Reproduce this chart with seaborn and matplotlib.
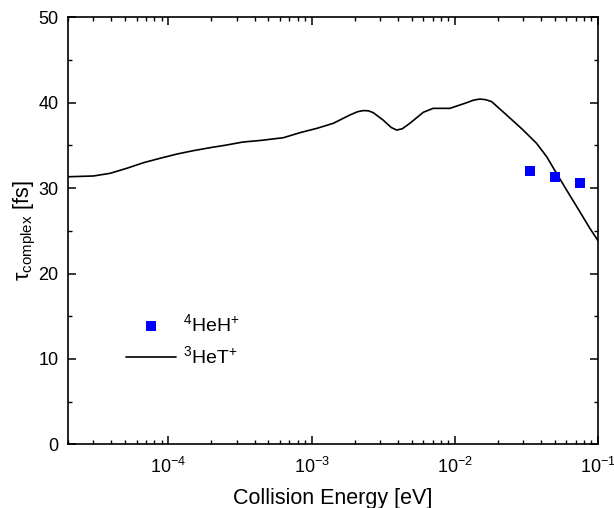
import numpy as np
import matplotlib
matplotlib.use('Agg')
import matplotlib.pyplot as plt
import matplotlib.ticker as mticker
import seaborn as sns

# 3HeT+ model curve
energy_het = [2.0e-5, 3.0e-5, 3.92e-5, 5.13e-5, 6.70e-5, 8.75e-5, 1.15e-4, 1.49e-4,
              1.95e-4, 2.56e-4, 3.33e-4, 4.40e-4, 6.35e-4, 8.30e-4, 1.09e-3, 1.42e-3,
              1.85e-3, 2.10e-3, 2.30e-3, 2.50e-3, 2.70e-3, 3.16e-3, 3.60e-3, 3.93e-3,
              4.30e-3, 4.86e-3, 6.03e-3, 7.06e-3, 9.25e-3, 1.21e-2, 1.35e-2, 1.50e-2,
              1.65e-2, 1.81e-2, 2.30e-2, 3.00e-2, 3.72e-2, 4.38e-2, 5.13e-2, 6.03e-2,
              7.46e-2, 8.77e-2, 1.0e-1]
tau_het = [31.33, 31.42, 31.73, 32.32, 32.97, 33.49, 33.99, 34.38,
           34.73, 35.05, 35.40, 35.58, 35.90, 36.49, 37.00, 37.59,
           38.56, 38.95, 39.08, 39.05, 38.83, 37.97, 37.10, 36.80,
           36.95, 37.59, 38.88, 39.34, 39.34, 40.00, 40.30, 40.43,
           40.35, 40.12, 38.56, 36.80, 35.25, 33.68, 31.73, 29.78,
           27.24, 25.29, 23.84]

# 4HeH+ measured points
energy_heh = [0.0334, 0.0499, 0.0746]
tau_heh = [32.04, 31.26, 30.63]

sns.set_style('ticks')
plt.rcParams['font.family'] = ['Liberation Sans', 'DejaVu Sans']
plt.rcParams['mathtext.fontset'] = 'custom'
plt.rcParams['mathtext.rm'] = 'Liberation Sans'
plt.rcParams['mathtext.it'] = 'Liberation Sans:italic'
plt.rcParams['mathtext.bf'] = 'Liberation Sans:bold'
plt.rcParams['axes.unicode_minus'] = False
plt.rcParams['text.color'] = 'black'
plt.rcParams['axes.labelcolor'] = 'black'
plt.rcParams['xtick.color'] = 'black'
plt.rcParams['ytick.color'] = 'black'

fig = plt.figure(figsize=(6.14, 5.08), dpi=100)
ax = fig.add_axes([0.111, 0.1254, 0.863, 0.8405])

sns.scatterplot(x=energy_heh, y=tau_heh, marker='s', color='#0000ff', s=44,
                linewidth=0, ax=ax, label='$^{4}$HeH$^{+}$', zorder=3)
sns.lineplot(x=energy_het, y=tau_het, color='black', linewidth=1.2, ax=ax,
             label='$^{3}$HeT$^{+}$', sort=False)

ax.set_xscale('log')
ax.set_xlim(2e-5, 1e-1)
ax.set_ylim(0, 50)
ax.yaxis.set_major_locator(mticker.MultipleLocator(10))
ax.yaxis.set_minor_locator(mticker.MultipleLocator(5))
ax.xaxis.set_major_locator(mticker.LogLocator(base=10, numticks=10))
ax.xaxis.set_minor_locator(mticker.LogLocator(base=10, subs=np.arange(2, 10), numticks=20))
ax.xaxis.set_minor_formatter(mticker.NullFormatter())

for side in ['top', 'right', 'bottom', 'left']:
    ax.spines[side].set_visible(True)
    ax.spines[side].set_linewidth(1.2)
    ax.spines[side].set_color('black')

ax.tick_params(which='both', direction='in', top=True, right=True, color='black',
               labelcolor='black')
ax.tick_params(which='major', length=5.5, width=1.1, labelsize=13)
ax.tick_params(which='minor', length=3, width=1.0)
ax.tick_params(axis='x', which='major', pad=9)
ax.tick_params(axis='y', which='major', pad=7)

ax.set_xlabel('Collision Energy [eV]', fontsize=15.5, labelpad=8, color='black')
ax.set_ylabel(r'$\mathrm{\tau_{complex}}$ [fs]', fontsize=15.5, labelpad=0, color='black')

handles, labels = ax.get_legend_handles_labels()
leg = ax.legend(handles, labels, loc='center left', bbox_to_anchor=(0.109, 0.244),
                frameon=False, fontsize=14, borderpad=0, borderaxespad=0,
                handlelength=2.6, handletextpad=0.35, labelspacing=0.55)
for t in leg.get_texts():
    t.set_color('black')

fig.savefig('out.png', dpi=100)
